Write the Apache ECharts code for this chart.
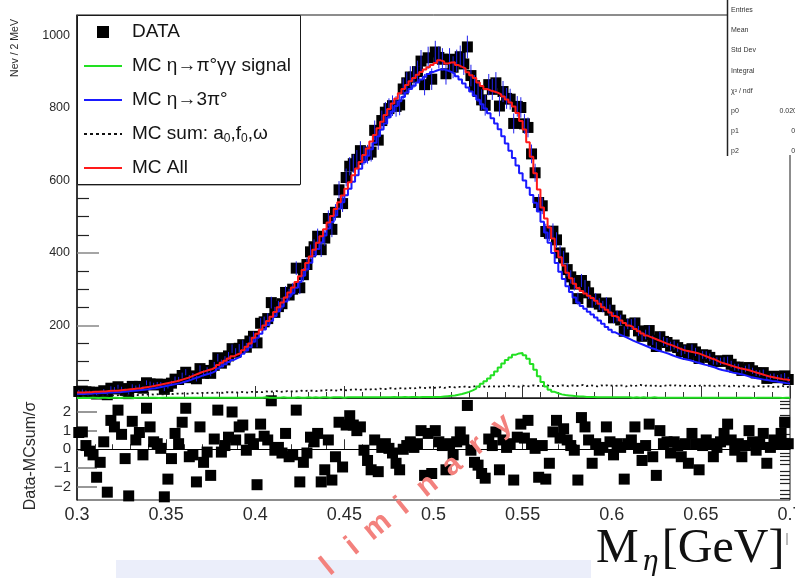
<!DOCTYPE html>
<html>
<head>
<meta charset="utf-8">
<script src="https://cdn.jsdelivr.net/npm/echarts@6/dist/echarts.min.js"></script>
<style>
html, body { margin: 0; padding: 0; background: #fff; }
#chart { width: 795px; height: 578px; }
</style>
</head>
<body>
<div id="chart"></div>
<script>
// Binning of the invariant-mass histograms (2 MeV bins from 0.30 to 0.70 GeV)
const massMin = 0.3;
const massMax = 0.7;
const binWidth = 0.002;

// Measured events per bin
const dataCounts = [
  18,19,17,16,16,11,15,20,9,27,
  25,31,26,21,12,32,29,32,27,42,
  39,36,38,38,24,32,41,52,51,62,
  71,56,61,53,81,68,76,68,90,111,
  96,105,116,136,126,137,147,140,157,170,
  152,206,210,219,263,236,252,260,291,284,
  300,358,304,340,368,403,417,446,409,441,
  495,465,512,574,536,608,639,646,658,682,
  669,672,678,738,711,765,788,798,806,804,
  808,852,869,885,885,900,929,864,938,879,
  954,939,934,894,934,912,930,941,921,968,
  889,861,845,822,807,864,851,869,805,845,
  826,824,757,804,801,756,746,673,621,539,
  530,459,454,460,436,400,386,354,334,314,
  274,324,308,290,264,273,259,252,262,242,
  221,226,215,184,204,203,207,185,170,175,
  186,159,142,169,156,153,143,146,139,128,
  133,120,136,127,109,119,118,112,102,102,
  101,102,104,93,85,85,76,80,84,75,
  69,68,70,54,59,60,56,58,61,51
];

// MC: all contributions
const mcAll = [
  15,15,16,16,17,17,18,18,19,20,
  20,21,22,23,24,25,26,27,29,30,
  32,34,36,38,40,42,44,46,49,52,
  55,59,63,67,71,74,77,80,85,91,
  97,103,109,115,120,124,132,141,150,166,
  177,188,200,212,224,237,250,263,277,291,
  305,320,336,353,372,390,409,428,446,465,
  484,502,521,540,558,577,595,614,633,651,
  670,688,707,725,744,762,780,797,812,826,
  840,852,863,873,882,891,899,906,912,918,
  924,931,928,922,925,926,918,913,909,898,
  890,882,870,860,852,848,845,842,837,831,
  823,815,804,786,764,740,705,665,620,575,
  525,495,470,440,405,388,365,345,330,315,
  303,295,288,282,276,268,260,250,243,236,
  226,222,214,207,200,196,190,184,178,172,
  168,164,160,156,152,148,145,141,137,133,
  130,128,126,124,121,117,113,109,106,101,
  97,94,91,88,85,82,80,78,75,72,
  69,66,63,60,58,56,54,52,51,49
];

// MC: eta -> 3 pi0
const mcEta3pi = [
  11,11,12,12,13,13,14,14,15,15,
  16,16,17,18,19,20,21,22,23,24,
  26,27,29,31,33,35,37,39,41,44,
  47,50,54,57,61,64,67,70,75,81,
  87,93,99,105,110,114,122,131,140,155,
  166,177,189,201,213,226,239,252,266,280,
  289,304,320,337,355,373,392,411,429,448,
  467,485,503,522,540,559,577,596,614,632,
  650,668,686,704,722,740,757,774,790,805,
  818,830,842,852,861,870,878,886,893,899,
  903,906,906,903,899,894,887,878,867,856,
  845,834,822,810,798,785,771,757,741,722,
  702,682,662,641,620,600,580,560,538,514,
  486,456,428,400,372,348,328,308,292,277,
  263,254,246,238,230,222,214,205,196,188,
  181,176,172,168,163,158,154,150,146,142,
  138,135,131,128,125,122,118,114,111,108,
  106,104,101,98,95,92,90,87,84,80,
  77,75,73,70,68,66,64,61,58,56,
  54,52,50,49,47,46,44,43,41,40
];

// MC: eta -> pi0 gamma gamma signal
const mcSignal = [
  0,1,0,1,1,0,1,1,0,1,
  1,0,1,1,1,0,1,1,1,1,
  1,1,0,1,1,1,1,1,1,1,
  1,1,1,1,1,1,1,1,1,1,
  1,1,1,1,1,1,1,1,1,1,
  1,1,2,1,1,1,1,2,1,1,
  1,2,1,1,2,1,2,1,2,2,
  1,2,2,2,1,2,2,2,2,2,
  2,2,2,2,2,2,2,2,3,2,
  2,3,2,3,3,2,3,3,3,3,
  3,3,4,5,6,7,9,11,14,17,
  21,26,32,39,46,54,63,73,84,95,
  105,112,119,123,124,118,108,94,78,60,
  44,32,23,17,13,10,8,7,6,5,
  4,4,3,3,3,2,2,2,2,2,
  2,2,2,2,2,1,2,1,2,1,
  1,2,1,1,1,1,1,1,1,1,
  1,1,1,1,1,1,1,1,1,1,
  1,1,1,1,1,1,1,1,1,0,
  1,1,1,1,1,1,1,0,1,1
];

// MC: sum of a0, f0, omega backgrounds
const mcBackground = [
  5,5,6,5,6,6,7,6,7,7,
  7,8,7,8,8,9,8,9,9,10,
  10,9,11,10,11,12,11,12,12,13,
  12,13,14,13,14,13,15,14,15,15,
  14,16,15,16,15,17,16,15,17,16,
  17,16,18,17,18,19,17,18,19,18,
  19,18,20,19,21,20,19,21,20,22,
  21,22,20,23,22,21,23,24,22,23,
  24,23,25,24,26,24,25,27,25,26,
  27,26,28,26,27,29,28,27,29,28,
  29,30,28,30,31,29,31,30,32,30,
  31,33,31,32,30,33,32,31,33,32,
  34,32,33,31,34,33,32,35,33,34,
  33,35,32,34,33,35,34,32,35,33,
  34,36,33,35,34,32,35,33,36,34,
  33,35,34,32,35,33,34,36,33,35,
  34,33,35,32,34,36,33,35,34,33,
  35,33,34,32,35,34,33,35,32,34,
  33,35,32,34,33,31,34,32,33,31,
  33,32,31,33,30,32,31,33,30,32
];

// (Data - MC) / sigma per bin
const residuals = [
  0.9,0.93,0.2,-0.1,-0.3,-1.5,-0.7,0.4,-2.3,1.55,
  1.2,2.1,0.8,-0.5,-2.5,1.5,0.5,0.9,-0.3,2.2,
  1.2,0.4,0.3,0.05,-2.55,-1.6,-0.5,0.85,0.3,1.45,
  2.2,-0.4,-0.3,-1.75,1.2,-0.7,-0.15,-1.4,0.55,2.1,
  -0.15,0.2,0.65,2.0,0.5,1.2,1.3,-0.05,0.55,0.3,
  -1.9,1.35,0.7,0.5,2.6,-0.05,0.1,-0.2,0.85,-0.4,
  -0.3,2.1,-1.75,-0.7,-0.2,0.65,0.4,0.85,-1.75,-1.1,
  0.5,-1.65,-0.4,1.45,-0.95,1.3,1.8,1.3,1.0,1.2,
  -0.05,-0.6,-1.1,0.5,-1.2,0.1,0.3,0.05,-0.2,-0.75,
  -1.1,0.0,0.2,0.4,0.1,0.3,1.0,-1.4,0.85,-1.3,
  1.0,0.4,0.2,-1.1,0.3,-0.3,0.4,0.93,0.5,2.35,
  -0.05,-0.7,-0.85,-1.3,-1.55,0.55,0.2,0.93,-1.1,0.5,
  0.1,0.3,-1.65,0.65,1.35,0.6,1.55,0.3,0.05,-1.5,
  0.2,-1.6,-0.75,0.93,1.55,0.6,1.1,0.5,0.2,-0.05,
  -1.65,1.7,1.2,0.5,-0.75,0.3,-0.05,0.1,1.2,0.4,
  -0.3,0.3,0.1,-1.6,0.3,0.5,1.2,0.05,-0.6,0.2,
  1.35,-0.4,-1.4,1.0,0.3,0.4,-0.2,0.4,0.2,-0.4,
  0.3,-0.75,0.85,0.3,-1.1,0.2,0.5,0.3,-0.4,0.1,
  0.4,0.85,1.35,0.5,-0.05,0.3,-0.4,0.2,1.0,0.4,
  -0.05,0.3,0.85,-0.75,0.1,0.5,0.3,0.85,1.45,0.3
];

// Axis ticks
const residualLabelTicks = [-2, -1, 0, 1, 2];
const residualMinorTicks = [-2.6,-2.4,-2.2,-1.8,-1.6,-1.4,-1.2,-0.8,-0.6,-0.4,-0.2,
                            0.2,0.4,0.6,0.8,1.2,1.4,1.6,1.8,2.2,2.4,2.6];

// Series names, as listed in the legend
const names = {
  data: 'DATA',
  signal: 'MC η→π°γγ signal',
  eta3pi: 'MC η→3π°',
  bkg: 'MC sum: a0,f0,ω',
  all: 'MC All'
};

// Fit-statistics box entries
const statRows = [
  ['Entries', ''], ['Mean', ''], ['Std Dev', ''], ['Integral', ''],
  ['χ² / ndf', ''], ['p0', '0.020'], ['p1', '0.'], ['p2', '0.']
];

const watermark = 'Preliminary';

const binCenter = i => massMin + binWidth * (i + 0.5);

// Histogram outline: each bin contributes its left and right edge at its height
function stepPoints(values) {
  const pts = [];
  values.forEach((v, i) => {
    const lo = massMin + binWidth * i;
    pts.push([lo, v], [lo + binWidth, v]);
  });
  return pts;
}

const FONT = 'Liberation Sans, Arial, Helvetica, sans-serif';
const INK = '#1a1a1a';
const COLORS = { signal: '#22e022', eta3pi: '#1a1aff', bkg: '#111', all: '#ff1a1a', err: '#2222ee' };

const chart = echarts.init(document.getElementById('chart'), null, { renderer: 'canvas' });

const massFmt = v => String(+v.toFixed(2));

function histSeries(name, values, color, width, type) {
  return {
    name, type: 'line', xAxisIndex: 0, yAxisIndex: 0,
    data: stepPoints(values), symbol: 'none', showSymbol: false,
    lineStyle: { color, width, type: type || 'solid' },
    itemStyle: { color },
    z: 4, silent: true, clip: true
  };
}

const option = {
  animation: false,
  backgroundColor: '#fff',
  textStyle: { fontFamily: FONT },
  grid: [
    { left: 77, right: 5, top: 15, height: 383, show: true, borderColor: INK, borderWidth: 1,
      backgroundColor: 'transparent', outerBoundsMode: 'none' },
    { left: 77, right: 5, top: 398, height: 102, show: true, borderColor: INK, borderWidth: 1,
      backgroundColor: 'transparent', outerBoundsMode: 'none' }
  ],
  xAxis: [
    {
      type: 'value', gridIndex: 0, min: massMin, max: massMax, interval: 0.05,
      axisLine: { show: true, lineStyle: { color: INK, width: 1 } },
      axisTick: { show: true, inside: true, length: 12, lineStyle: { color: '#333' } },
      minorTick: { show: true, splitNumber: 5, length: 6, lineStyle: { color: '#333' } },
      axisLabel: { show: false },
      splitLine: { show: false }
    },
    {
      type: 'value', gridIndex: 1, min: massMin, max: massMax, interval: 0.05,
      axisLine: { show: true, lineStyle: { color: INK, width: 1 } },
      axisTick: { show: true, inside: true, length: 10, lineStyle: { color: '#333' } },
      minorTick: { show: true, splitNumber: 5, length: 5, lineStyle: { color: '#333' } },
      axisLabel: { show: true, fontSize: 18, color: '#2a2a2a', margin: 6, fontFamily: FONT,
                   formatter: massFmt, showMaxLabel: true, showMinLabel: true },
      splitLine: { show: false }
    }
  ],
  yAxis: [
    {
      type: 'value', gridIndex: 0, min: 0, max: 1056, interval: 200,
      axisLine: { show: true, lineStyle: { color: INK, width: 1.5 } },
      axisTick: { show: true, inside: true, length: 22, lineStyle: { color: '#888', width: 1.5 } },
      minorTick: { show: true, splitNumber: 4, length: 12, lineStyle: { color: '#222', width: 1.2 } },
      axisLabel: { fontSize: 12.5, color: '#2a2a2a', margin: 7, fontFamily: FONT, showMaxLabel: false,
                   formatter: v => (v === 0 || v % 200 !== 0 ? '' : String(v)) },
      splitLine: { show: false }
    },
    {
      type: 'value', gridIndex: 1, min: -2.72, max: 2.75,
      axisLine: { show: true, lineStyle: { color: INK, width: 1.5 } },
      axisTick: { show: true, inside: true, length: 20, customValues: residualLabelTicks,
                  lineStyle: { color: '#777', width: 1.5 } },
      axisLabel: { fontSize: 15, color: '#2a2a2a', margin: 6, fontFamily: FONT,
                   customValues: residualLabelTicks,
                   formatter: v => (v < 0 ? '\u2212' + Math.abs(v) : String(v)) },
      splitLine: { show: false }
    },
    {
      type: 'value', gridIndex: 1, min: -2.72, max: 2.75,
      axisLine: { show: false },
      axisTick: { show: true, inside: true, length: 10, customValues: residualMinorTicks,
                  lineStyle: { color: '#222', width: 1.2 } },
      axisLabel: { show: false },
      splitLine: { show: false }
    }
  ],
  series: [
    {
      name: names.data, type: 'scatter', xAxisIndex: 0, yAxisIndex: 0,
      data: dataCounts.map((v, i) => [binCenter(i), v]),
      symbol: 'rect', symbolSize: 11,
      itemStyle: { color: '#000', opacity: 1 }, z: 2, silent: true
    },
    {
      type: 'custom', xAxisIndex: 0, yAxisIndex: 0, z: 3, silent: true,
      data: dataCounts.map((v, i) => [binCenter(i), v, Math.sqrt(v)]),
      renderItem: (params, api) => {
        const x = api.value(0), y = api.value(1), e = api.value(2);
        const a = api.coord([x, y + e]);
        const b = api.coord([x, y - e]);
        return { type: 'line', shape: { x1: a[0], y1: a[1], x2: b[0], y2: b[1] },
                 style: { stroke: COLORS.err, lineWidth: 1 } };
      }
    },
    histSeries(names.bkg, mcBackground, COLORS.bkg, 1.8, [2, 3]),
    histSeries(names.signal, mcSignal, COLORS.signal, 2),
    histSeries(names.eta3pi, mcEta3pi, COLORS.eta3pi, 2),
    histSeries(names.all, mcAll, COLORS.all, 2),
    {
      type: 'scatter', xAxisIndex: 1, yAxisIndex: 1,
      data: residuals.map((v, i) => [binCenter(i), v]),
      symbol: 'rect', symbolSize: 11,
      itemStyle: { color: '#000', opacity: 1 }, z: 2, silent: true,
      markLine: {
        silent: true, symbol: 'none', animation: false,
        label: { show: false },
        lineStyle: { color: '#000', type: 'solid', width: 1 },
        data: [{ yAxis: 0 }]
      }
    }
  ],
  graphic: []
};

// Every overlay element sits above the axes and plotted series
const TOP_Z = 50;
const overlay = el => Object.assign({ z: TOP_Z, silent: true }, el);

// Legend box (top-left)
const LEG = { x: 77, y: 15, w: 223, h: 169, iconX: 84, iconW: 38, textX: 132, row0: 32, rowGap: 34 };
const legendRows = [
  { kind: 'marker', text: names.data },
  { kind: 'line', color: COLORS.signal, text: names.signal },
  { kind: 'line', color: COLORS.eta3pi, text: names.eta3pi },
  { kind: 'dots', color: COLORS.bkg, text: '{t|MC sum: a}{s|0}{t|,f}{s|0}{t|,ω}' },
  { kind: 'line', color: COLORS.all, text: names.all }
];
option.graphic.push(overlay({ type: 'rect',
  shape: { x: LEG.x + 0.5, y: LEG.y + 0.5, width: LEG.w, height: LEG.h },
  style: { fill: '#fff', stroke: INK, lineWidth: 1 } }));
option.graphic.push(overlay({ type: 'line', z: TOP_Z + 1,
  shape: { x1: LEG.x + 1, y1: LEG.y + LEG.h + 1.5, x2: LEG.x + LEG.w, y2: LEG.y + LEG.h + 1.5 },
  style: { stroke: '#aaa', lineWidth: 1 } }));
legendRows.forEach((row, k) => {
  const cy = LEG.row0 + k * LEG.rowGap;
  if (row.kind === 'marker') {
    option.graphic.push(overlay({ type: 'rect', z: TOP_Z + 1,
      shape: { x: LEG.iconX + LEG.iconW / 2 - 6, y: cy - 6, width: 12, height: 12 },
      style: { fill: '#000' } }));
  } else {
    option.graphic.push(overlay({ type: 'line', z: TOP_Z + 1,
      shape: { x1: LEG.iconX, y1: cy, x2: LEG.iconX + LEG.iconW, y2: cy },
      style: { stroke: row.color, lineWidth: 2, lineDash: row.kind === 'dots' ? [3, 3] : null } }));
  }
  option.graphic.push(overlay({ type: 'text', z: TOP_Z + 1,
    style: {
      x: LEG.textX, y: cy, text: row.text, fontFamily: FONT, fontSize: 19, fill: '#151515',
      verticalAlign: 'middle',
      rich: {
        t: { fontFamily: FONT, fontSize: 19, fill: '#151515', lineHeight: 22 },
        s: { fontFamily: FONT, fontSize: 12, fill: '#151515', verticalAlign: 'bottom', lineHeight: 10 }
      }
    } }));
});

// Statistics box in the top-right corner
option.graphic.push(overlay({ type: 'rect', shape: { x: 727, y: -1, width: 70, height: 156 },
  style: { fill: '#fff' } }));
option.graphic.push(overlay({ type: 'line', z: TOP_Z + 1,
  shape: { x1: 727.5, y1: 0, x2: 727.5, y2: 156 }, style: { stroke: '#222', lineWidth: 1.5 } }));
statRows.forEach((row, k) => {
  const y = 10 + k * 20.2;
  option.graphic.push(overlay({ type: 'text', z: TOP_Z + 1,
    style: { x: 731, y, text: row[0], fontFamily: FONT, fontSize: 7, fill: '#333', verticalAlign: 'middle' } }));
  if (row[1]) {
    option.graphic.push(overlay({ type: 'text', z: TOP_Z + 1,
      style: { x: 797, y, text: row[1], fontFamily: FONT, fontSize: 7, fill: '#333',
               align: 'right', verticalAlign: 'middle' } }));
  }
});

// Axis titles
option.graphic.push(overlay({
  type: 'text', x: 15, y: 48, rotation: Math.PI / 2,
  style: { text: 'Nev / 2 MeV', fontFamily: FONT, fontSize: 10.5, fill: '#2a2a2a',
           align: 'center', verticalAlign: 'middle' }
}));
option.graphic.push(overlay({
  type: 'text', x: 31, y: 456, rotation: Math.PI / 2,
  style: { text: 'Data-MCsum/σ', fontFamily: FONT, fontSize: 16, fill: '#2a2a2a',
           align: 'center', verticalAlign: 'middle' }
}));

// Footer band and mass label
option.graphic.push(overlay({
  type: 'rect', shape: { x: 116, y: 560, width: 481, height: 20 }, style: { fill: '#ebeefa' }
}));
option.graphic.push(overlay({
  type: 'rect', shape: { x: 591, y: 525, width: 200, height: 55 }, style: { fill: '#fff' }
}));
option.graphic.push(overlay({
  type: 'text', z: TOP_Z + 1, x: 596, y: 522,
  style: {
    text: '{a|M}{b|η}{a|[GeV]}',
    rich: {
      a: { fontFamily: 'Liberation Serif, DejaVu Serif, serif', fontSize: 48, fill: '#111', lineHeight: 54 },
      b: { fontFamily: 'DejaVu Serif, serif', fontStyle: 'italic', fontSize: 27, fill: '#111',
           verticalAlign: 'bottom', lineHeight: 28, padding: [0, 4, 0, 3] }
    },
    verticalAlign: 'top'
  }
}));
option.graphic.push(overlay({
  type: 'rect', z: TOP_Z + 1, shape: { x: 786, y: 533, width: 2, height: 12 }, style: { fill: '#bbb' }
}));

// Rotated watermark, one letter at a time along a 39 degree baseline
const WM = { lastX: 502, lastY: 425, stepX: 24.9, stepY: -20.3, angle: 39 * Math.PI / 180 };
for (let k = 0; k < watermark.length; k++) {
  const back = watermark.length - 1 - k;
  option.graphic.push(overlay({
    type: 'text', z: TOP_Z + 5,
    x: WM.lastX - back * WM.stepX, y: WM.lastY - back * WM.stepY, rotation: WM.angle,
    style: { text: watermark[k], fontFamily: FONT, fontWeight: 'bold', fontSize: 30,
             fill: '#f3817d', align: 'center', verticalAlign: 'middle' }
  }));
}

chart.setOption(option);
</script>
</body>
</html>
